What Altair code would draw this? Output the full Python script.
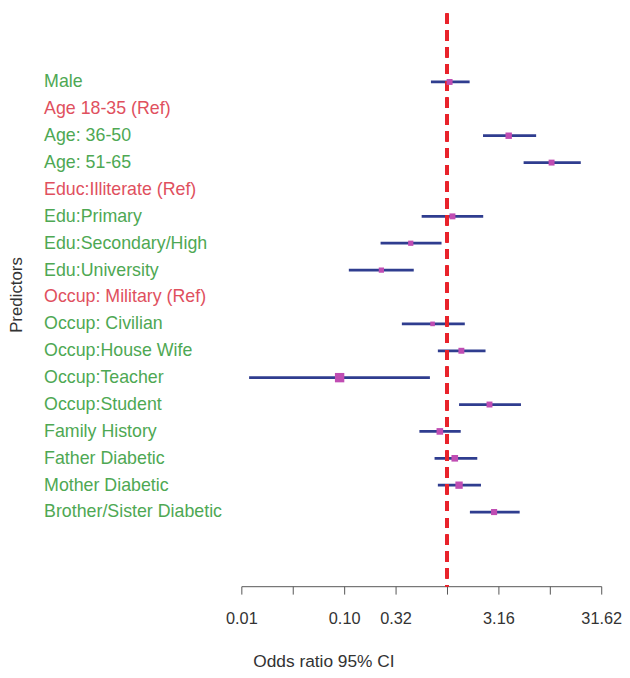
import altair as alt
import pandas as pd

predictors = [
    "Male", "Age 18-35 (Ref)", "Age: 36-50", "Age: 51-65", "Educ:Illiterate (Ref)",
    "Edu:Primary", "Edu:Secondary/High", "Edu:University", "Occup: Military (Ref)",
    "Occup: Civilian", "Occup:House Wife", "Occup:Teacher", "Occup:Student",
    "Family History", "Father Diabetic", "Mother Diabetic", "Brother/Sister Diabetic",
]
odds_ratio = [1.06, None, 3.98, 10.4, None, 1.13, 0.444, 0.230, None,
              0.724, 1.38, 0.0903, 2.59, 0.852, 1.19, 1.31, 2.87]
ci_low = [0.698, None, 2.24, 5.56, None, 0.567, 0.226, 0.111, None,
          0.364, 0.815, 0.0119, 1.31, 0.539, 0.757, 0.815, 1.67]
ci_high = [1.66, None, 7.36, 20.0, None, 2.25, 0.885, 0.475, None,
           1.49, 2.37, 0.682, 5.24, 1.36, 1.97, 2.14, 5.09]
box_weight = [36, None, 42, 36, None, 36, 28, 28, None,
              22, 36, 90, 36, 45, 45, 55, 38]

tick_values = [0.01, 0.03162, 0.1, 0.3162, 1, 3.162, 10, 31.62]
tick_labels = ["0.01", "", "0.10", "0.32", "", "3.16", "", "31.62"]

df = pd.DataFrame({
    "predictor": predictors,
    "or": odds_ratio,
    "lo": ci_low,
    "hi": ci_high,
    "w": box_weight,
})
est = df.dropna()

label_expr = "''"
for v, l in reversed(list(zip(tick_values, tick_labels))):
    label_expr = f"(datum.value == {v} ? '{l}' : {label_expr})"

FONT = "Liberation Sans"

xscale = alt.Scale(type="log", domain=[0.01, 31.62], nice=False)
yscale = alt.Scale(type="point", domain=predictors, padding=0, range=[69, 504])

yaxis = alt.Axis(
    title="Predictors", titleFont=FONT, titleFontSize=17, titleFontWeight="normal",
    titleColor="#333333", titlePadding=18, titleY=284,
    labelFont=FONT, labelFontSize=18, labelAlign="left", labelPadding=200,
    labelColor=alt.expr("indexof(datum.value, '(Ref)') >= 0 ? '#e0505e' : '#4ea853'"),
    ticks=False, tickSize=0, domain=False, grid=False, labelLimit=400,
)
xaxis = alt.Axis(
    title="Odds ratio 95% CI", titleFont=FONT, titleFontSize=17.5, titleFontWeight="normal",
    titleColor="#333333", titleX=83, titleY=76, titleBaseline="middle", titleAlign="center",
    values=tick_values, labelExpr=label_expr, labelFont=FONT, labelFontSize=16.5,
    labelColor="#333333", labelPadding=17, tickSize=8, tickColor="#555555",
    domainColor="#555555", grid=False, labelFlush=False, labelOverlap=False,
)

ci = alt.Chart(est).mark_rule(color="#2f3d8f", strokeWidth=2.8).encode(
    x=alt.X("lo:Q", scale=xscale, axis=xaxis),
    x2="hi:Q",
    y=alt.Y("predictor:N", scale=yscale, axis=yaxis, sort=predictors),
)
ref = alt.Chart(est).mark_rule(color="#e8232b", strokeWidth=3, strokeDash=[10, 7]).encode(
    x=alt.datum(1)
)
pts = alt.Chart(est).mark_square(color="#c04db3", opacity=1, filled=True).encode(
    x=alt.X("or:Q", scale=xscale),
    y=alt.Y("predictor:N", scale=yscale, sort=predictors),
    size=alt.Size("w:Q", scale=None, legend=None),
)

chart = alt.layer(ci, ref, pts).properties(
    width=364, height=579, padding=0, background="white"
).configure_view(stroke=None)

chart.save("out.html", embed_options={"renderer": "svg", "actions": False})
